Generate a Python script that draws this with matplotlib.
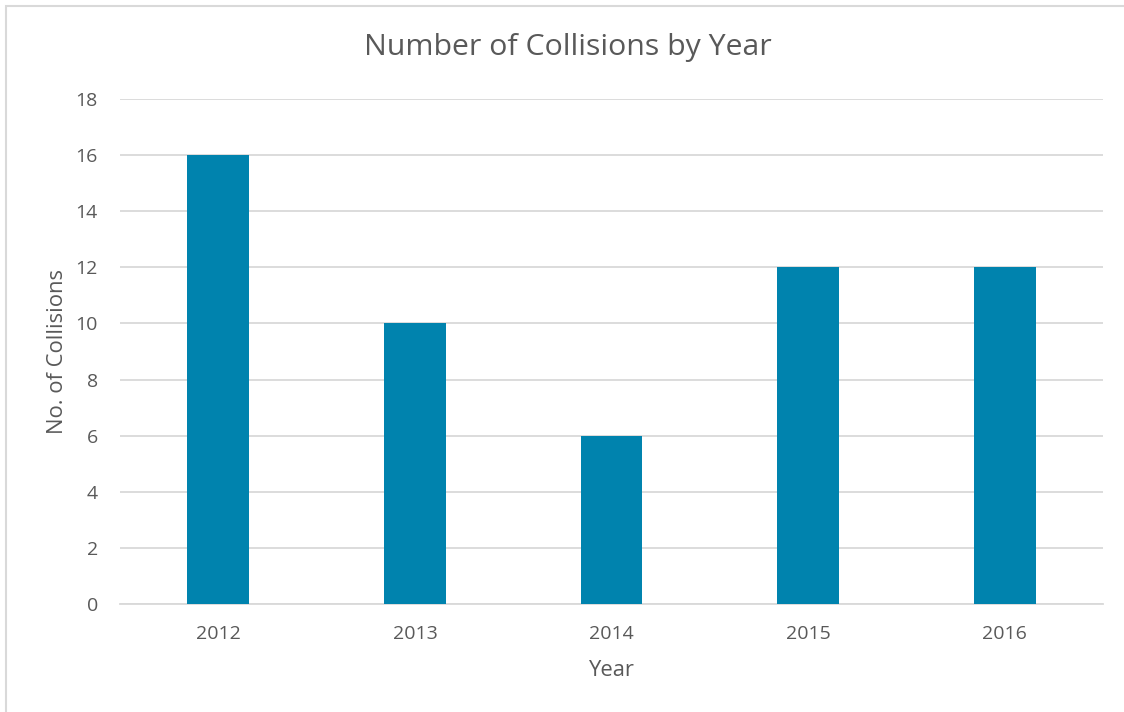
import matplotlib
matplotlib.use("Agg")
import matplotlib.pyplot as plt
from matplotlib.patches import Rectangle

years = ["2012", "2013", "2014", "2015", "2016"]
collisions = [16, 10, 6, 12, 12]
yticks = [0, 2, 4, 6, 8, 10, 12, 14, 16, 18]

bar_color = "#0083AE"
text_color = "#595959"
grid_color = "#D9D9D9"

plt.rcParams["font.family"] = ["Open Sans", "DejaVu Sans"]

W, H = 1124, 712
fig = plt.figure(figsize=(W / 100, H / 100), dpi=100)
ax = fig.add_axes([120 / W, 1 - 604 / H, (1103 - 120) / W, (604 - 99) / H])

# chart border
fig.patches.append(Rectangle((6 / W, -0.01), 1.02, 1 - 6 / H + 0.01,
                             transform=fig.transFigure, fill=False,
                             edgecolor="#D9D9D9", linewidth=1.5))

x = range(len(years))
ax.bar(x, collisions, width=0.315, color=bar_color, zorder=3)
ax.set_xlim(-0.5, len(years) - 0.5)
ax.set_ylim(0, 18)
ax.set_yticks(yticks)
ax.set_xticks(list(x))
ax.set_xticklabels(years)

ax.grid(axis="y", color=grid_color, linewidth=1.3, zorder=0)
for s in ["top", "right", "left"]:
    ax.spines[s].set_visible(False)
ax.spines["bottom"].set_color(grid_color)
ax.spines["bottom"].set_linewidth(1.3)
ax.tick_params(length=0, labelsize=14, colors=text_color)
ax.tick_params(axis="x", pad=15)
ax.tick_params(axis="y", pad=16)

ax.set_xlabel("Year", fontsize=15.8, color=text_color, labelpad=12)
ax.set_ylabel("No. of Collisions", fontsize=15.8, color=text_color, labelpad=5)
fig.text(568 / W, 1 - 48 / H, "Number of Collisions by Year", ha="center",
         va="center", fontsize=21.8, color=text_color)

fig.savefig("out.png", dpi=100)
